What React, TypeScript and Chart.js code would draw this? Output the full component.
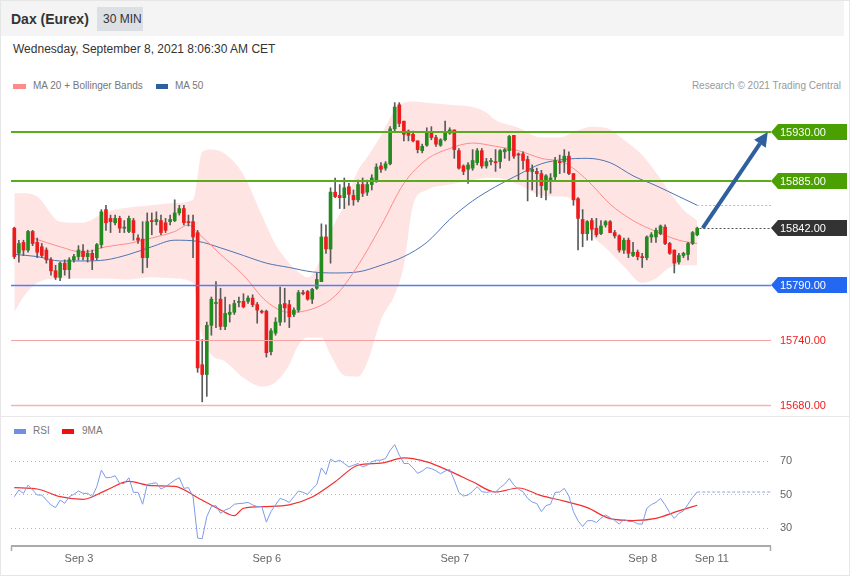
import React, { useEffect, useRef } from "react";
import { Chart, registerables } from "chart.js";

Chart.register(...registerables);

const FONT = '"Liberation Sans", Arial, Helvetica, sans-serif';

// ---------- Candles (30 min, Dax Eurex) ----------
const opens = [
  15842, 15819, 15829, 15822, 15839, 15829, 15825, 15822, 15813, 15803,
  15797, 15810, 15804, 15813, 15816, 15821, 15816, 15819, 15815, 15827,
  15859, 15851, 15847, 15851, 15842, 15839, 15849, 15833, 15832, 15815,
  15849, 15848, 15849, 15847, 15848, 15849, 15856, 15860, 15848, 15848,
  15838, 15717, 15708, 15753, 15773, 15777, 15752, 15763, 15765, 15774,
  15775, 15775, 15778, 15772, 15766, 15766, 15729, 15746, 15756, 15773,
  15772, 15763, 15767, 15783, 15784, 15777, 15787, 15793, 15834, 15823,
  15875, 15872, 15870, 15880, 15872, 15868, 15882, 15875, 15882, 15886,
  15899, 15897, 15901, 15933, 15955, 15940, 15931, 15928, 15922, 15913,
  15918, 15929, 15925, 15918, 15923, 15929, 15932, 15913, 15899, 15896,
  15897, 15902, 15913, 15899, 15903, 15903, 15903, 15912, 15913, 15927,
  15910, 15910, 15905, 15894, 15894, 15892, 15877, 15886, 15889, 15903,
  15903, 15908, 15892, 15869, 15850, 15837, 15849, 15842, 15837, 15845,
  15848, 15838, 15835, 15822, 15831, 15817, 15820, 15816, 15815, 15834,
  15834, 15837, 15843, 15828, 15822, 15811, 15817, 15818, 15828, 15836,
];
const highs = [
  15843, 15831, 15831, 15840, 15840, 15833, 15828, 15824, 15815, 15808,
  15811, 15813, 15815, 15818, 15826, 15827, 15822, 15822, 15828, 15859,
  15863, 15854, 15854, 15853, 15849, 15853, 15851, 15836, 15848, 15856,
  15856, 15857, 15854, 15851, 15854, 15868, 15863, 15863, 15854, 15854,
  15840, 15740, 15756, 15779, 15793, 15787, 15779, 15772, 15776, 15779,
  15782, 15780, 15781, 15774, 15767, 15767, 15750, 15760, 15788, 15787,
  15776, 15769, 15785, 15785, 15785, 15787, 15801, 15846, 15845, 15879,
  15888, 15882, 15888, 15883, 15877, 15886, 15888, 15886, 15891, 15901,
  15902, 15903, 15935, 15957, 15957, 15940, 15932, 15931, 15922, 15919,
  15934, 15935, 15927, 15924, 15940, 15934, 15932, 15915, 15900, 15902,
  15914, 15915, 15915, 15906, 15906, 15914, 15914, 15915, 15927, 15927,
  15911, 15912, 15908, 15900, 15897, 15895, 15891, 15892, 15907, 15909,
  15914, 15912, 15892, 15870, 15859, 15849, 15851, 15851, 15849, 15849,
  15849, 15840, 15836, 15833, 15833, 15829, 15822, 15819, 15835, 15838,
  15842, 15845, 15845, 15829, 15822, 15819, 15820, 15829, 15839, 15843,
];
const lows = [
  15814, 15811, 15817, 15820, 15826, 15815, 15815, 15810, 15799, 15795,
  15794, 15799, 15796, 15811, 15813, 15813, 15811, 15804, 15813, 15824,
  15840, 15838, 15845, 15838, 15838, 15838, 15831, 15828, 15801, 15806,
  15836, 15845, 15836, 15838, 15845, 15848, 15854, 15845, 15844, 15815,
  15710, 15683, 15688, 15744, 15751, 15749, 15749, 15756, 15763, 15770,
  15769, 15773, 15770, 15755, 15764, 15724, 15726, 15744, 15753, 15756,
  15751, 15761, 15765, 15781, 15776, 15773, 15786, 15793, 15819, 15810,
  15870, 15860, 15860, 15863, 15863, 15866, 15871, 15872, 15877, 15884,
  15893, 15895, 15900, 15931, 15935, 15922, 15922, 15921, 15911, 15911,
  15917, 15923, 15917, 15917, 15922, 15928, 15906, 15896, 15891, 15883,
  15895, 15900, 15897, 15897, 15900, 15894, 15897, 15906, 15904, 15906,
  15885, 15896, 15867, 15877, 15871, 15870, 15868, 15874, 15886, 15892,
  15893, 15891, 15863, 15822, 15825, 15831, 15831, 15834, 15836, 15843,
  15838, 15833, 15820, 15819, 15815, 15816, 15813, 15806, 15813, 15829,
  15829, 15836, 15827, 15818, 15801, 15809, 15815, 15813, 15827, 15835,
];
const closes = [
  15816, 15828, 15822, 15839, 15828, 15820, 15817, 15813, 15803, 15797,
  15810, 15804, 15813, 15816, 15822, 15816, 15819, 15813, 15827, 15857,
  15847, 15848, 15851, 15842, 15843, 15851, 15838, 15831, 15815, 15848,
  15848, 15850, 15838, 15840, 15850, 15856, 15860, 15847, 15847, 15834,
  15714, 15708, 15753, 15777, 15774, 15752, 15764, 15765, 15773, 15774,
  15770, 15778, 15772, 15767, 15765, 15728, 15748, 15756, 15772, 15769,
  15761, 15767, 15783, 15782, 15777, 15786, 15795, 15834, 15823, 15875,
  15871, 15870, 15879, 15873, 15868, 15882, 15874, 15882, 15888, 15898,
  15896, 15901, 15933, 15953, 15938, 15928, 15927, 15922, 15914, 15917,
  15929, 15925, 15919, 15923, 15929, 15932, 15914, 15897, 15894, 15900,
  15904, 15913, 15899, 15903, 15904, 15902, 15913, 15914, 15926, 15908,
  15909, 15904, 15894, 15896, 15892, 15881, 15890, 15888, 15904, 15902,
  15908, 15892, 15868, 15851, 15837, 15848, 15841, 15836, 15844, 15848,
  15838, 15835, 15822, 15831, 15819, 15820, 15816, 15815, 15834, 15836,
  15840, 15844, 15828, 15819, 15810, 15817, 15819, 15828, 15838, 15842,
];

// ---------- Moving averages / Bollinger bands (read at candle indices) ----------
const ma20Idx = [4, 10, 15, 20, 25, 30, 35, 38, 40, 45, 50, 55, 60, 65, 70, 75, 80, 85, 90, 95, 100, 105, 110, 115, 120, 125, 130, 135, 140, 145, 149];
const ma20Vals = [15833, 15825, 15820, 15825, 15828, 15833, 15839, 15845, 15838, 15818, 15799, 15775, 15765, 15768, 15780, 15808, 15844, 15883, 15905, 15915, 15920, 15917, 15913, 15906, 15902, 15886, 15864, 15849, 15839, 15831, 15828];

const ma50Idx = [0, 5, 10, 15, 20, 25, 30, 35, 40, 45, 50, 55, 60, 65, 70, 75, 80, 85, 90, 95, 100, 105, 110, 115, 120, 125, 130, 135, 140, 145, 149];
const ma50Vals = [15818, 15816, 15812, 15812, 15813, 15818, 15825, 15831, 15830, 15824, 15817, 15810, 15806, 15802, 15801, 15802, 15808, 15816, 15829, 15850, 15867, 15880, 15891, 15901, 15905, 15906, 15902, 15890, 15881, 15871, 15863];

const bandIdx = [0, 2, 5, 10, 15, 20, 25, 30, 35, 39, 41, 43, 46, 50, 54, 57, 60, 62, 64, 67, 69, 72, 75, 77, 80, 83, 85, 87, 90, 95, 100, 103, 105, 110, 115, 119, 122, 126, 129, 133, 137, 140, 143, 146, 149];
const bandUpper = [15874, 15874, 15871, 15848, 15847, 15857, 15861, 15863, 15865, 15868, 15912, 15914, 15910, 15891, 15854, 15827, 15810, 15802, 15797, 15815, 15839, 15863, 15895, 15907, 15927, 15950, 15957, 15958, 15957, 15955, 15953, 15948, 15941, 15934, 15925, 15925, 15930, 15935, 15934, 15923, 15909, 15893, 15875, 15859, 15849];
const bandLower = [15765, 15779, 15792, 15796, 15796, 15796, 15795, 15797, 15796, 15792, 15744, 15726, 15720, 15705, 15697, 15701, 15717, 15735, 15742, 15742, 15726, 15707, 15706, 15719, 15758, 15781, 15808, 15863, 15877, 15882, 15886, 15888, 15888, 15882, 15872, 15871, 15868, 15836, 15824, 15807, 15792, 15796, 15806, 15808, 15808];

// ---------- Key levels ----------
const levelValues = [15930, 15885, 15790, 15740, 15680];
const levelLabels = ["15930.00", "15885.00", "15790.00", "15740.00", "15680.00"];
const lastPrice = 15842;
const lastPriceLabel = "15842.00";
const arrowFrom = [150.2, 15842];
const arrowTo = [164.4, 15930];

// ---------- RSI ----------
const rsiValues = [
  48.4, 52.4, 50.4, 55.3, 52.4, 49.4, 49.4, 46.4, 43.5, 41.9,
  46.4, 44.5, 48.4, 49.8, 51.8, 50.4, 50.4, 48.4, 54.4, 64.3,
  59.7, 59.9, 60.9, 56.3, 56.3, 59.7, 51.0, 51.0, 43.9, 55.7,
  56.3, 56.7, 53.0, 54.4, 56.3, 58.3, 59.7, 53.4, 53.8, 48.4,
  23.7, 23.3, 36.5, 42.5, 43.1, 38.5, 40.5, 41.5, 43.9, 44.3,
  44.5, 45.0, 43.5, 42.5, 42.5, 33.2, 39.5, 43.5, 47.4, 46.4,
  45.0, 48.4, 51.8, 51.0, 49.8, 53.0, 55.7, 65.6, 61.7, 70.8,
  69.2, 70.2, 68.2, 66.2, 67.2, 68.2, 66.2, 67.2, 69.2, 70.2,
  70.2, 71.2, 76.1, 79.5, 73.2, 68.2, 68.2, 65.6, 62.3, 63.7,
  65.8, 65.2, 63.9, 62.1, 63.7, 64.7, 58.3, 51.0, 48.8, 49.4,
  51.6, 54.4, 51.4, 51.0, 51.4, 51.2, 53.8, 55.9, 59.3, 55.3,
  52.8, 51.4, 47.4, 45.2, 44.3, 39.5, 43.1, 43.9, 51.0, 51.2,
  53.4, 48.8, 39.5, 34.0, 30.6, 34.0, 34.2, 33.0, 35.5, 37.5,
  35.9, 34.2, 32.0, 34.8, 33.6, 33.6, 32.2, 32.0, 41.5, 43.7,
  45.0, 47.4, 43.5, 38.9, 35.5, 38.5, 39.9, 43.9, 48.0, 51.2,
];
const ma9Idx = [0, 5, 10, 15, 20, 25, 30, 35, 40, 45, 48, 50, 55, 60, 65, 70, 75, 80, 85, 90, 95, 100, 105, 110, 115, 120, 125, 130, 135, 140, 145, 149];
const ma9Vals = [53.8, 53.0, 48.4, 46.8, 52.2, 57.5, 55.0, 54.6, 47.8, 40.5, 37.1, 41.5, 42.5, 43.5, 48.2, 57.3, 67.2, 68.4, 71.6, 69.2, 63.7, 57.3, 51.2, 53.6, 49.0, 45.8, 41.9, 35.3, 34.2, 35.5, 39.9, 43.3];
const rsiLevels = [70, 50, 30];

// ---------- Time axis ----------
const dayTicks = [14.1, 55.1, 96.1, 137.1, 152.2];
const dayLabels = ["Sep 3", "Sep 6", "Sep 7", "Sep 8", "Sep 11"];

const X_MIN = -0.72;
const X_MAX = 165.1;

const GREEN = "#228a1e";
const RED = "#ec1c1c";

const levelStyles = [
  { line: "#5cab1e", w: 2, box: "#4aa000", text: "#ffffff" },
  { line: "#5cab1e", w: 2, box: "#4aa000", text: "#ffffff" },
  { line: "#4f7ff0", w: 1.5, box: "#2468f2", text: "#ffffff" },
  { line: "#f5a3a3", w: 1, box: null, text: "#f01c1c" },
  { line: "#f7b3b3", w: 1.5, box: null, text: "#f01c1c" },
];

function labelBox(ctx: CanvasRenderingContext2D, left: number, cy: number, right: number, color: string) {
  ctx.fillStyle = color;
  ctx.beginPath();
  ctx.moveTo(left, cy);
  ctx.lineTo(left + 7, cy - 8);
  ctx.lineTo(right, cy - 8);
  ctx.lineTo(right, cy + 8);
  ctx.lineTo(left + 7, cy + 8);
  ctx.closePath();
  ctx.fill();
}

const mainOverlay = {
  id: "mainOverlay",
  afterDatasetsDraw(chart: any) {
    const { ctx, chartArea: a, scales } = chart;
    const x = scales.x;
    const y = scales.y;
    ctx.save();
    levelValues.forEach((v, k) => {
      const st = levelStyles[k];
      const py = Math.round(y.getPixelForValue(v)) + (st.w === 2 ? 0 : 0.5);
      ctx.strokeStyle = st.line;
      ctx.lineWidth = st.w;
      ctx.setLineDash([]);
      ctx.beginPath();
      ctx.moveTo(a.left, py);
      ctx.lineTo(a.right, py);
      ctx.stroke();
    });
    const lastIdx = opens.length - 1;
    // last price dotted
    const lpY = Math.round(y.getPixelForValue(lastPrice)) + 0.5;
    ctx.strokeStyle = "#555";
    ctx.lineWidth = 1;
    ctx.setLineDash([2, 2]);
    ctx.beginPath();
    ctx.moveTo(x.getPixelForValue(lastIdx + 0.5), lpY);
    ctx.lineTo(a.right, lpY);
    ctx.stroke();
    // MA50 extension
    const mY = Math.round(y.getPixelForValue(ma50Vals[ma50Vals.length - 1])) + 0.5;
    ctx.strokeStyle = "#a9bde0";
    ctx.beginPath();
    ctx.moveTo(x.getPixelForValue(lastIdx), mY);
    ctx.lineTo(a.right, mY);
    ctx.stroke();
    ctx.setLineDash([]);
    // arrow
    const x1 = x.getPixelForValue(arrowFrom[0]);
    const y1 = y.getPixelForValue(arrowFrom[1]);
    const x2 = x.getPixelForValue(arrowTo[0]);
    const y2 = y.getPixelForValue(arrowTo[1]);
    const ang = Math.atan2(y2 - y1, x2 - x1);
    const hl = 14;
    const hw = 7;
    const bx = x2 - hl * Math.cos(ang);
    const by = y2 - hl * Math.sin(ang);
    ctx.strokeStyle = "#2f5f9f";
    ctx.fillStyle = "#2f5f9f";
    ctx.lineWidth = 4;
    ctx.beginPath();
    ctx.moveTo(x1, y1);
    ctx.lineTo(bx, by);
    ctx.stroke();
    ctx.beginPath();
    ctx.moveTo(x2, y2);
    ctx.lineTo(bx + hw * Math.sin(ang), by - hw * Math.cos(ang));
    ctx.lineTo(bx - hw * Math.sin(ang), by + hw * Math.cos(ang));
    ctx.closePath();
    ctx.fill();
    ctx.restore();
  },
  afterDraw(chart: any) {
    const { ctx, chartArea: a, scales } = chart;
    const y = scales.y;
    ctx.save();
    ctx.font = `11px ${FONT}`;
    ctx.textBaseline = "middle";
    ctx.textAlign = "left";
    const right = chart.width - 3;
    levelValues.forEach((v, k) => {
      const st = levelStyles[k];
      const py = Math.round(y.getPixelForValue(v));
      if (st.box) labelBox(ctx, a.right, py, right, st.box);
      ctx.fillStyle = st.text;
      ctx.fillText(levelLabels[k], a.right + 9, py + 0.5);
    });
    const lp = Math.round(y.getPixelForValue(lastPrice));
    labelBox(ctx, a.right, lp, right, "#333333");
    ctx.fillStyle = "#ffffff";
    ctx.fillText(lastPriceLabel, a.right + 9, lp + 0.5);
    ctx.restore();
  },
};

const rsiOverlay = {
  id: "rsiOverlay",
  beforeDatasetsDraw(chart: any) {
    const { ctx, chartArea: a, scales } = chart;
    const y = scales.y;
    ctx.save();
    ctx.strokeStyle = "#b8b8b8";
    ctx.lineWidth = 1;
    ctx.setLineDash([1, 3]);
    rsiLevels.forEach((v) => {
      const py = Math.round(y.getPixelForValue(v)) + 0.5;
      ctx.beginPath();
      ctx.moveTo(a.left, py);
      ctx.lineTo(a.right, py);
      ctx.stroke();
    });
    ctx.restore();
  },
  afterDatasetsDraw(chart: any) {
    const { ctx, chartArea: a, scales } = chart;
    const x = scales.x;
    const y = scales.y;
    ctx.save();
    const last = rsiValues.length - 1;
    const py = y.getPixelForValue(rsiValues[last]);
    ctx.strokeStyle = "#8aa3ea";
    ctx.lineWidth = 1;
    ctx.setLineDash([3, 2]);
    ctx.beginPath();
    ctx.moveTo(x.getPixelForValue(last), py);
    ctx.lineTo(a.right, py);
    ctx.stroke();
    ctx.restore();
  },
  afterDraw(chart: any) {
    const { ctx, chartArea: a, scales } = chart;
    const x = scales.x;
    const y = scales.y;
    ctx.save();
    ctx.strokeStyle = "#aaaaaa";
    ctx.lineWidth = 2;
    ctx.beginPath();
    ctx.moveTo(a.left, a.bottom);
    ctx.lineTo(a.right, a.bottom);
    ctx.stroke();
    ctx.lineWidth = 1.5;
    ctx.beginPath();
    ctx.moveTo(a.left + 0.5, a.bottom);
    ctx.lineTo(a.left + 0.5, a.bottom + 5);
    ctx.moveTo(a.right - 0.5, a.bottom);
    ctx.lineTo(a.right - 0.5, a.bottom + 5);
    ctx.stroke();
    ctx.font = `11px ${FONT}`;
    ctx.fillStyle = "#666666";
    ctx.textBaseline = "middle";
    ctx.textAlign = "center";
    dayTicks.forEach((t, k) => {
      ctx.fillText(dayLabels[k], x.getPixelForValue(t), a.bottom + 13);
    });
    ctx.textAlign = "left";
    rsiLevels.forEach((v) => {
      ctx.fillText(String(v), a.right + 9, y.getPixelForValue(v) + 0.5);
    });
    ctx.restore();
  },
};

function mainConfig(): any {
  const idx = opens.map((_, i) => i);
  const bodies = idx.map((i) => ({ x: i, y: [opens[i], closes[i]] }));
  const wicks = idx.map((i) => ({ x: i, y: [lows[i], highs[i]] }));
  const colors = idx.map((i) => (closes[i] >= opens[i] ? GREEN : RED));
  return {
    type: "bar",
    data: {
      datasets: [
        { type: "bar", data: bodies, backgroundColor: colors, barThickness: 3, grouped: false, minBarLength: 1, order: 0 },
        { type: "bar", data: wicks, backgroundColor: "#5a5a5a", barThickness: 1, grouped: false, order: 1 },
        {
          type: "line", data: ma20Idx.map((i, k) => ({ x: i, y: ma20Vals[k] })),
          borderColor: "#ff8c8c", borderWidth: 1, pointRadius: 0, cubicInterpolationMode: "monotone", order: 2,
        },
        {
          type: "line", data: ma50Idx.map((i, k) => ({ x: i, y: ma50Vals[k] })),
          borderColor: "#4d75b3", borderWidth: 1, pointRadius: 0, cubicInterpolationMode: "monotone", order: 3,
        },
        {
          type: "line", data: bandIdx.map((i, k) => ({ x: i, y: bandUpper[k] })),
          borderColor: "rgba(0,0,0,0)", borderWidth: 1, pointRadius: 0, cubicInterpolationMode: "monotone",
          fill: "+1", backgroundColor: "#ffe4e4", order: 4,
        },
        {
          type: "line", data: bandIdx.map((i, k) => ({ x: i, y: bandLower[k] })),
          borderColor: "rgba(0,0,0,0)", borderWidth: 1, pointRadius: 0, cubicInterpolationMode: "monotone",
          fill: false, order: 5,
        },
      ],
    },
    options: {
      responsive: false,
      maintainAspectRatio: false,
      devicePixelRatio: 1,
      animation: false,
      events: [],
      layout: { padding: { left: 11, right: 79, top: 0, bottom: 0 } },
      plugins: { legend: { display: false }, tooltip: { enabled: false } },
      scales: {
        x: { type: "linear", min: X_MIN, max: X_MAX, display: false, offset: false },
        y: { type: "linear", min: 15670, max: 15964, display: false },
      },
    },
    plugins: [mainOverlay],
  };
}

function rsiConfig(): any {
  return {
    type: "line",
    data: {
      datasets: [
        {
          data: rsiValues.map((v, i) => ({ x: i, y: v })),
          borderColor: "#7f9ae9", borderWidth: 1, pointRadius: 0, tension: 0, order: 0,
        },
        {
          data: ma9Idx.map((i, k) => ({ x: i, y: ma9Vals[k] })),
          borderColor: "#f23030", borderWidth: 1.2, pointRadius: 0, cubicInterpolationMode: "monotone", order: 1,
        },
      ],
    },
    options: {
      responsive: false,
      maintainAspectRatio: false,
      devicePixelRatio: 1,
      animation: false,
      events: [],
      layout: { padding: { left: 11, right: 79, top: 3, bottom: 30 } },
      plugins: { legend: { display: false }, tooltip: { enabled: false } },
      scales: {
        x: { type: "linear", min: X_MIN, max: X_MAX, display: false },
        y: { type: "linear", min: 18.96, max: 94.2, display: false },
      },
    },
    plugins: [rsiOverlay],
  };
}

const abs = (s: React.CSSProperties): React.CSSProperties => ({ position: "absolute", ...s });

export default function App() {
  const mainRef = useRef<HTMLCanvasElement>(null);
  const rsiRef = useRef<HTMLCanvasElement>(null);

  useEffect(() => {
    Chart.defaults.font.family = FONT;
    const main = new Chart(mainRef.current as HTMLCanvasElement, mainConfig());
    const rsi = new Chart(rsiRef.current as HTMLCanvasElement, rsiConfig());
    return () => {
      main.destroy();
      rsi.destroy();
    };
  }, []);

  const legendText: React.CSSProperties = { fontSize: 10, lineHeight: "12px", color: "#777", whiteSpace: "nowrap" };

  return (
    <div style={abs({ left: 0, top: 0, width: 850, height: 576, background: "#fff", fontFamily: FONT, overflow: "hidden" })}>
      <div style={abs({ left: 0, top: 0, width: 844, height: 36, background: "#f4f4f4" })} />
      <div style={abs({ left: 11, top: 11, fontSize: 14, fontWeight: "bold", lineHeight: "16px", color: "#333", whiteSpace: "nowrap" })}>Dax (Eurex)</div>
      <div style={abs({ left: 97, top: 7, width: 46, height: 24, boxSizing: "border-box", paddingLeft: 6, background: "#dcdfe4", fontSize: 12, lineHeight: "24px", color: "#333", whiteSpace: "nowrap" })}>30 MIN</div>
      <div style={abs({ left: 13, top: 41, fontSize: 12, lineHeight: "16px", color: "#333", whiteSpace: "nowrap" })}>Wednesday, September 8, 2021 8:06:30 AM CET</div>

      <div style={abs({ left: 13, top: 84, width: 13, height: 5, background: "#ff8a8a" })} />
      <div style={abs({ left: 33, top: 80, ...legendText })}>MA 20 + Bollinger Bands</div>
      <div style={abs({ left: 156, top: 84, width: 12, height: 5, background: "#2f5f9f" })} />
      <div style={abs({ left: 175, top: 80, ...legendText })}>MA 50</div>
      <div style={abs({ left: 0, top: 80, width: 841, textAlign: "right", ...legendText, color: "#999" })}>Research © 2021 Trading Central</div>

      <canvas ref={mainRef} width={850} height={321} style={abs({ left: 0, top: 95, width: 850, height: 321 })} />

      <div style={abs({ left: 0, top: 416, width: 850, height: 1, background: "#e8e8e8" })} />

      <div style={abs({ left: 14, top: 429, width: 12, height: 5, background: "#6f8fe6" })} />
      <div style={abs({ left: 33, top: 425, ...legendText })}>RSI</div>
      <div style={abs({ left: 62, top: 429, width: 12, height: 5, background: "#f01010" })} />
      <div style={abs({ left: 82, top: 425, ...legendText })}>9MA</div>

      <canvas ref={rsiRef} width={850} height={159} style={abs({ left: 0, top: 417, width: 850, height: 159 })} />

      <div style={abs({ left: 0, top: 0, width: 850, height: 576, boxSizing: "border-box", border: "1px solid #e6e6e6", pointerEvents: "none" })} />
    </div>
  );
}
